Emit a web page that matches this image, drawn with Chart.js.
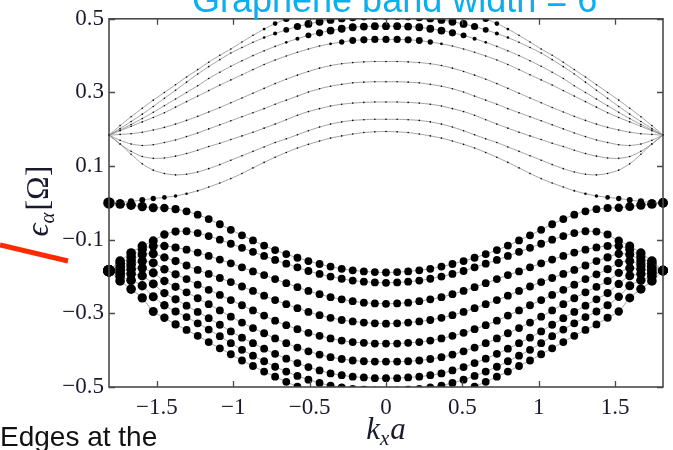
<!DOCTYPE html>
<html><head><meta charset="utf-8">
<script src="https://cdn.jsdelivr.net/npm/chart.js@4/dist/chart.umd.min.js"></script>
<style>html,body{margin:0;padding:0;background:#fff;}#wrap{width:673px;height:450px;position:relative;}</style>
</head><body><div id="wrap"><canvas id="c" width="673" height="450"></canvas></div>
<script>
// ---- data ----
const kx = [-1.814,-1.741,-1.669,-1.596,-1.524,-1.451,-1.378,-1.306,-1.233,-1.161,-1.088,-1.016,-0.943,-0.871,-0.798,-0.726,-0.653,-0.580,-0.508,-0.435,-0.363,-0.290,-0.218,-0.145,-0.073,0,0.073,0.145,0.218,0.290,0.363,0.435,0.508,0.580,0.653,0.726,0.798,0.871,0.943,1.016,1.088,1.161,1.233,1.306,1.378,1.451,1.524,1.596,1.669,1.741,1.814];

const bandU1 = [0.000,0.001,0.004,0.008,0.012,0.015,0.019,0.025,0.033,0.043,0.054,0.066,0.080,0.095,0.110,0.124,0.137,0.149,0.159,0.168,0.176,0.182,0.187,0.191,0.193,0.194,0.193,0.191,0.187,0.182,0.176,0.168,0.159,0.149,0.137,0.124,0.110,0.095,0.080,0.066,0.054,0.043,0.033,0.025,0.019,0.015,0.012,0.008,0.004,0.001,0.000];
const bandU2 = [0.184,0.160,0.132,0.106,0.089,0.080,0.076,0.078,0.084,0.093,0.104,0.116,0.128,0.140,0.152,0.164,0.174,0.185,0.196,0.206,0.214,0.220,0.224,0.226,0.227,0.227,0.227,0.226,0.224,0.220,0.214,0.206,0.196,0.185,0.174,0.164,0.152,0.140,0.128,0.116,0.104,0.093,0.084,0.078,0.076,0.080,0.089,0.106,0.132,0.160,0.184];
const bandU3 = [0.184,0.160,0.140,0.126,0.121,0.122,0.127,0.134,0.143,0.153,0.162,0.172,0.182,0.192,0.203,0.214,0.226,0.238,0.248,0.256,0.263,0.268,0.271,0.273,0.274,0.274,0.274,0.273,0.271,0.268,0.263,0.256,0.248,0.238,0.226,0.214,0.203,0.192,0.182,0.172,0.162,0.153,0.143,0.134,0.127,0.122,0.121,0.126,0.140,0.160,0.184];
const bandU4 = [0.184,0.170,0.160,0.156,0.158,0.164,0.171,0.180,0.190,0.201,0.212,0.223,0.234,0.245,0.256,0.268,0.279,0.290,0.301,0.310,0.317,0.322,0.326,0.328,0.329,0.329,0.329,0.328,0.326,0.322,0.317,0.310,0.301,0.290,0.279,0.268,0.256,0.245,0.234,0.223,0.212,0.201,0.190,0.180,0.171,0.164,0.158,0.156,0.160,0.170,0.184];
const bandU5 = [0.184,0.186,0.188,0.192,0.198,0.205,0.214,0.224,0.235,0.247,0.259,0.272,0.285,0.298,0.311,0.324,0.336,0.347,0.357,0.366,0.373,0.378,0.381,0.383,0.384,0.384,0.384,0.383,0.381,0.378,0.373,0.366,0.357,0.347,0.336,0.324,0.311,0.298,0.285,0.272,0.259,0.247,0.235,0.224,0.214,0.205,0.198,0.192,0.188,0.186,0.184];
const bandU6 = [0.184,0.196,0.208,0.220,0.232,0.245,0.260,0.275,0.290,0.305,0.320,0.334,0.348,0.362,0.376,0.388,0.399,0.409,0.418,0.426,0.432,0.437,0.441,0.443,0.444,0.444,0.444,0.443,0.441,0.437,0.432,0.426,0.418,0.409,0.399,0.388,0.376,0.362,0.348,0.334,0.320,0.305,0.290,0.275,0.260,0.245,0.232,0.220,0.208,0.196,0.184];
const bandU7 = [0.184,0.198,0.213,0.229,0.246,0.264,0.282,0.300,0.318,0.338,0.355,0.371,0.386,0.400,0.413,0.425,0.436,0.446,0.455,0.462,0.468,0.473,0.477,0.479,0.480,0.480,0.480,0.479,0.477,0.473,0.468,0.462,0.455,0.446,0.436,0.425,0.413,0.400,0.386,0.371,0.355,0.338,0.318,0.300,0.282,0.264,0.246,0.229,0.213,0.198,0.184];
const bandU8 = [0.184,0.202,0.221,0.241,0.262,0.284,0.306,0.328,0.350,0.370,0.389,0.407,0.422,0.436,0.449,0.460,0.470,0.479,0.486,0.492,0.497,0.501,0.504,0.506,0.507,0.507,0.507,0.506,0.504,0.501,0.497,0.492,0.486,0.479,0.470,0.460,0.449,0.436,0.422,0.407,0.389,0.370,0.350,0.328,0.306,0.284,0.262,0.241,0.221,0.202,0.184];
const bandU9 = [0.184,0.210,0.234,0.257,0.279,0.300,0.321,0.342,0.362,0.382,0.401,0.418,0.437,0.455,0.472,0.487,0.500,0.512,0.522,0.530,0.537,0.542,0.546,0.548,0.550,0.550,0.550,0.548,0.546,0.542,0.537,0.530,0.522,0.512,0.500,0.487,0.472,0.455,0.437,0.418,0.401,0.382,0.362,0.342,0.321,0.300,0.279,0.257,0.234,0.210,0.184];

const bandL1 = [0.000,-0.003,-0.006,-0.010,-0.013,-0.014,-0.017,-0.023,-0.032,-0.044,-0.058,-0.073,-0.088,-0.102,-0.116,-0.128,-0.139,-0.149,-0.158,-0.166,-0.173,-0.179,-0.183,-0.186,-0.188,-0.189,-0.188,-0.186,-0.183,-0.179,-0.173,-0.166,-0.158,-0.149,-0.139,-0.128,-0.116,-0.102,-0.088,-0.073,-0.058,-0.044,-0.032,-0.023,-0.017,-0.014,-0.013,-0.010,-0.006,-0.003,0.000];
const bandL2 = [-0.184,-0.158,-0.136,-0.117,-0.103,-0.086,-0.078,-0.077,-0.082,-0.090,-0.100,-0.111,-0.122,-0.133,-0.144,-0.155,-0.165,-0.175,-0.185,-0.193,-0.200,-0.206,-0.211,-0.214,-0.216,-0.217,-0.216,-0.214,-0.211,-0.206,-0.200,-0.193,-0.185,-0.175,-0.165,-0.155,-0.144,-0.133,-0.122,-0.111,-0.100,-0.090,-0.082,-0.077,-0.078,-0.086,-0.103,-0.117,-0.136,-0.158,-0.184];
const bandL3 = [-0.184,-0.165,-0.146,-0.126,-0.117,-0.117,-0.121,-0.127,-0.135,-0.144,-0.154,-0.164,-0.175,-0.186,-0.196,-0.207,-0.218,-0.229,-0.239,-0.248,-0.256,-0.262,-0.267,-0.271,-0.273,-0.274,-0.273,-0.271,-0.267,-0.262,-0.256,-0.248,-0.239,-0.229,-0.218,-0.207,-0.196,-0.186,-0.175,-0.164,-0.154,-0.144,-0.135,-0.127,-0.121,-0.117,-0.117,-0.126,-0.146,-0.165,-0.184];
const bandL4 = [-0.184,-0.172,-0.157,-0.140,-0.138,-0.148,-0.158,-0.170,-0.182,-0.193,-0.204,-0.215,-0.227,-0.239,-0.252,-0.264,-0.275,-0.286,-0.296,-0.305,-0.312,-0.318,-0.322,-0.325,-0.327,-0.328,-0.327,-0.325,-0.322,-0.318,-0.312,-0.305,-0.296,-0.286,-0.275,-0.264,-0.252,-0.239,-0.227,-0.215,-0.204,-0.193,-0.182,-0.170,-0.158,-0.148,-0.138,-0.140,-0.157,-0.172,-0.184];
const bandL5 = [-0.184,-0.178,-0.168,-0.158,-0.163,-0.180,-0.194,-0.207,-0.222,-0.236,-0.250,-0.264,-0.278,-0.292,-0.306,-0.320,-0.332,-0.343,-0.353,-0.361,-0.368,-0.374,-0.378,-0.380,-0.382,-0.382,-0.382,-0.380,-0.378,-0.374,-0.368,-0.361,-0.353,-0.343,-0.332,-0.320,-0.306,-0.292,-0.278,-0.264,-0.250,-0.236,-0.222,-0.207,-0.194,-0.180,-0.163,-0.158,-0.168,-0.178,-0.184];
const bandL6 = [-0.184,-0.185,-0.180,-0.177,-0.190,-0.212,-0.228,-0.243,-0.259,-0.275,-0.292,-0.309,-0.325,-0.340,-0.354,-0.368,-0.381,-0.393,-0.403,-0.412,-0.419,-0.424,-0.428,-0.430,-0.431,-0.431,-0.431,-0.430,-0.428,-0.424,-0.419,-0.412,-0.403,-0.393,-0.381,-0.368,-0.354,-0.340,-0.325,-0.309,-0.292,-0.275,-0.259,-0.243,-0.228,-0.212,-0.190,-0.177,-0.180,-0.185,-0.184];
const bandL7 = [-0.184,-0.192,-0.193,-0.198,-0.220,-0.245,-0.262,-0.279,-0.296,-0.313,-0.331,-0.349,-0.366,-0.381,-0.396,-0.410,-0.423,-0.435,-0.446,-0.455,-0.463,-0.468,-0.472,-0.474,-0.476,-0.476,-0.476,-0.474,-0.472,-0.468,-0.463,-0.455,-0.446,-0.435,-0.423,-0.410,-0.396,-0.381,-0.366,-0.349,-0.331,-0.313,-0.296,-0.279,-0.262,-0.245,-0.220,-0.198,-0.193,-0.192,-0.184];
const bandL8 = [-0.184,-0.200,-0.210,-0.225,-0.255,-0.278,-0.295,-0.310,-0.327,-0.344,-0.362,-0.381,-0.399,-0.415,-0.430,-0.445,-0.458,-0.470,-0.480,-0.489,-0.496,-0.501,-0.505,-0.507,-0.509,-0.510,-0.509,-0.507,-0.505,-0.501,-0.496,-0.489,-0.480,-0.470,-0.458,-0.445,-0.430,-0.415,-0.399,-0.381,-0.362,-0.344,-0.327,-0.310,-0.295,-0.278,-0.255,-0.225,-0.210,-0.200,-0.184];
const bandL9 = [-0.184,-0.212,-0.234,-0.258,-0.295,-0.312,-0.330,-0.345,-0.361,-0.378,-0.395,-0.411,-0.428,-0.443,-0.458,-0.472,-0.486,-0.499,-0.510,-0.519,-0.526,-0.531,-0.535,-0.538,-0.539,-0.540,-0.539,-0.538,-0.535,-0.531,-0.526,-0.519,-0.510,-0.499,-0.486,-0.472,-0.458,-0.443,-0.428,-0.411,-0.395,-0.378,-0.361,-0.345,-0.330,-0.312,-0.295,-0.258,-0.234,-0.212,-0.184];

// spectral weights (dot size) per point
const weightU1 = [1.3,0.8,0.75,0.7,0.6,0.5,0.3,0.15,0.05,0,0,0,0,0,0,0,0,0,0,0,0,0,0,0,0,0,0,0,0,0,0,0,0,0,0,0,0,0,0,0,0,0,0.05,0.15,0.3,0.5,0.6,0.7,0.75,0.8,1.3];
const weightU6 = [0,0,0,0,0,0,0,0,0,0,0,0,0,0,0,0,0,0,0,0,0.2,0.6,0.85,0.9,0.9,0.9,0.9,0.9,0.85,0.6,0.2,0,0,0,0,0,0,0,0,0,0,0,0,0,0,0,0,0,0,0,0];
const weightU7 = [0,0,0,0,0,0,0,0,0,0,0,0,0,0,0,0,0.15,0.4,0.7,0.9,1,1,1,1,1,1,1,1,1,1,1,0.9,0.7,0.4,0.15,0,0,0,0,0,0,0,0,0,0,0,0,0,0,0,0];
const weightU8 = [0,0,0,0,0,0,0,0,0,0,0,0,0,0,0.15,0.4,0.7,0.9,1,1,1,1,1,1,1,1,1,1,1,1,1,1,1,0.9,0.7,0.4,0.15,0,0,0,0,0,0,0,0,0,0,0,0,0,0];
const weightU9 = [0,0,0,0,0,0,0,0,0,0,0,0,0,0,0.2,0.5,0.8,1,1,1,1,1,1,1,1,1,1,1,1,1,1,1,1,1,0.8,0.5,0.2,0,0,0,0,0,0,0,0,0,0,0,0,0,0];
const weightThin = [0,0,0,0,0,0,0,0,0,0,0,0,0,0,0,0,0,0,0,0,0,0,0,0,0,0,0,0,0,0,0,0,0,0,0,0,0,0,0,0,0,0,0,0,0,0,0,0,0,0,0];
const weightLower = [1.6,1.3,1.3,1.25,1.2,1.1,1.05,1,1,1,1,1,1,1,1,1,1,1,1,1,1,1,1,1,1,1,1,1,1,1,1,1,1,1,1,1,1,1,1,1,1,1,1,1,1,1.05,1.1,1.2,1.25,1.3,1.3,1.6];

const xTicks = [-1.5,-1,-0.5,0,0.5,1,1.5];
const yTicks = [-0.5,-0.3,-0.1,0.1,0.3,0.5];
const titleText = 'Graphene band width = 6';
const noteText = 'Edges at the';

// ---- build ----
const bands = [
  [bandU1, weightU1],[bandU2, weightThin],[bandU3, weightThin],[bandU4, weightThin],[bandU5, weightThin],
  [bandU6, weightU6],[bandU7, weightU7],[bandU8, weightU8],[bandU9, weightU9],
  [bandL1, weightLower],[bandL2, weightLower],[bandL3, weightLower],[bandL4, weightLower],[bandL5, weightLower],
  [bandL6, weightLower],[bandL7, weightLower],[bandL8, weightLower],[bandL9, weightLower]
];
const datasets = bands.map(([vals, w]) => ({
  data: kx.map((x, i) => ({x: x, y: vals[i]})),
  borderColor: '#8c8c8c',
  borderWidth: 0.8,
  tension: 0.25,
  pointRadius: w.map(v => 0.8 + 3.1 * v),
  pointBackgroundColor: '#000',
  pointBorderWidth: 0,
  pointHoverRadius: 0,
  clip: {left: 8, right: 8, top: 0, bottom: 0}
}));

const fmt = v => (v < 0 ? '\u2212' : '') + String(Math.abs(v));
const serif = "'Liberation Serif', 'DejaVu Serif', serif";

const decor = {
  id: 'decor',
  afterDraw(chart) {
    const ctx = chart.ctx, a = chart.chartArea;
    const xs = chart.scales.x, ys = chart.scales.y;
    ctx.save();
    // frame
    ctx.strokeStyle = '#4a4a4a';
    ctx.lineWidth = 1.6;
    ctx.strokeRect(a.left, a.top, a.right - a.left, a.bottom - a.top);
    // inward ticks
    ctx.lineWidth = 1.3;
    ctx.beginPath();
    xTicks.forEach(v => {
      const p = Math.round(xs.getPixelForValue(v)) + 0.5;
      ctx.moveTo(p, a.bottom); ctx.lineTo(p, a.bottom - 6);
      ctx.moveTo(p, a.top); ctx.lineTo(p, a.top + 6);
    });
    yTicks.forEach(v => {
      const p = Math.round(ys.getPixelForValue(v)) + 0.5;
      ctx.moveTo(a.left, p); ctx.lineTo(a.left + 6, p);
      ctx.moveTo(a.right, p); ctx.lineTo(a.right - 6, p);
    });
    ctx.stroke();

    // x axis title: k_x a
    ctx.fillStyle = '#1a1a2e';
    ctx.textBaseline = 'alphabetic';
    const fBig = 'italic 31px ' + serif, fSub = 'italic 21px ' + serif;
    ctx.font = fBig; const wk = ctx.measureText('k').width; const wa = ctx.measureText('a').width;
    ctx.font = fSub; const wx = ctx.measureText('x').width;
    let sx = 386 - (wk + wx + wa + 1) / 2;
    const by = 439;
    ctx.font = fBig; ctx.fillText('k', sx, by); sx += wk;
    ctx.font = fSub; ctx.fillText('x', sx, by + 6); sx += wx + 1;
    ctx.font = fBig; ctx.fillText('a', sx, by);

    // y axis title: ϵ_α [Ω]
    ctx.save();
    ctx.translate(48, 201);
    ctx.rotate(-Math.PI / 2);
    const fE = 'italic 32px ' + serif, fA = 'italic 21px ' + serif, fO = '32px ' + serif;
    ctx.font = fE; const we = ctx.measureText('\u03F5').width;
    ctx.font = fA; const wal = ctx.measureText('\u03B1').width;
    ctx.font = fO; const wo = ctx.measureText('[\u03A9]').width;
    let tx = -(we + wal + wo + 2) / 2;
    ctx.font = fE; ctx.fillText('\u03F5', tx, 0); tx += we;
    ctx.font = fA; ctx.fillText('\u03B1', tx, 6); tx += wal + 2;
    ctx.font = fO; ctx.fillText('[\u03A9]', tx, 0);
    ctx.restore();

    // cut-off blue title
    ctx.fillStyle = '#0AAFEF';
    ctx.font = "36px 'Liberation Sans', Arial, sans-serif";
    ctx.fillText(titleText, 192, 12);

    // red annotation stroke
    ctx.strokeStyle = '#FF2A00';
    ctx.lineWidth = 5;
    ctx.lineCap = 'butt';
    ctx.beginPath();
    ctx.moveTo(0, 245); ctx.lineTo(68, 261);
    ctx.stroke();

    // cut-off note text
    ctx.fillStyle = '#111';
    ctx.font = "28px 'Liberation Sans', Arial, sans-serif";
    ctx.fillText(noteText, 0, 446);
    ctx.restore();
  }
};

new Chart(document.getElementById('c'), {
  type: 'line',
  data: {datasets},
  options: {
    responsive: false,
    animation: false,
    devicePixelRatio: 1,
    events: [],
    layout: {padding: {left: 0, right: 10, top: 15, bottom: 0}},
    plugins: {legend: {display: false}, tooltip: {enabled: false}, title: {display: false}},
    scales: {
      x: {
        type: 'linear', min: -1.8138, max: 1.8138,
        afterBuildTicks: s => { s.ticks = xTicks.map(v => ({value: v})); },
        afterFit: s => { s.height = 63; },
        grid: {display: false, drawTicks: false},
        border: {display: false},
        ticks: {callback: v => fmt(v), font: {family: serif, size: 23}, color: '#1a1a2e', padding: 7, maxRotation: 0, autoSkip: false}
      },
      y: {
        type: 'linear', min: -0.5, max: 0.5,
        afterBuildTicks: s => { s.ticks = yTicks.map(v => ({value: v})); },
        afterFit: s => { s.width = 109; },
        grid: {display: false, drawTicks: false},
        border: {display: false},
        ticks: {callback: v => fmt(v), font: {family: serif, size: 23}, color: '#1a1a2e', padding: 5, autoSkip: false}
      }
    }
  },
  plugins: [decor]
});
</script>
</body></html>
